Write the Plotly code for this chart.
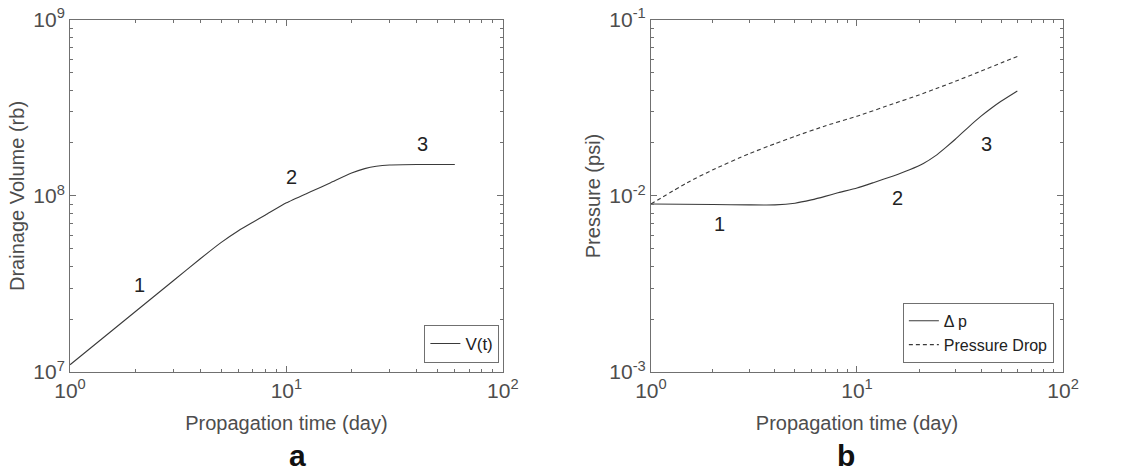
import numpy as np
import plotly.graph_objects as go

# Panel a: drainage volume vs propagation time
t_v = [1.0, 1.5, 2.0, 3.0, 4.0, 5.0, 6.0, 7.0, 8.0, 10.0, 13.0, 16.0, 20.0, 23.0, 26.0, 30.0, 40.0, 50.0, 60.0]
vol = [1.10e7, 1.65e7, 2.2e7, 3.3e7, 4.4e7, 5.45e7, 6.35e7, 7.1e7, 7.8e7, 9.15e7, 1.06e8, 1.19e8,
       1.35e8, 1.43e8, 1.475e8, 1.50e8, 1.51e8, 1.51e8, 1.51e8]

# Panel b: pressure vs propagation time
t_dp = [1.0, 2.0, 3.0, 4.0, 5.0, 6.0, 7.0, 8.0, 10.0, 12.0, 15.0, 18.0, 21.0, 24.0, 27.0, 30.0,
        35.0, 40.0, 45.0, 50.0, 60.0]
dp = [9.0e-3, 8.95e-3, 8.9e-3, 8.9e-3, 9.1e-3, 9.5e-3, 9.95e-3, 1.04e-2, 1.11e-2, 1.19e-2, 1.3e-2,
      1.41e-2, 1.53e-2, 1.69e-2, 1.89e-2, 2.1e-2, 2.48e-2, 2.84e-2, 3.16e-2, 3.45e-2, 3.95e-2]
t_drop = [1.0, 1.5, 2.0, 3.0, 4.0, 5.0, 7.0, 10.0, 15.0, 20.0, 25.0, 30.0, 40.0, 50.0, 60.0]
drop = [9.0e-3, 1.19e-2, 1.41e-2, 1.74e-2, 1.98e-2, 2.18e-2, 2.5e-2, 2.84e-2, 3.34e-2, 3.75e-2,
        4.13e-2, 4.48e-2, 5.12e-2, 5.7e-2, 6.2e-2]

# Stage labels (time, value, text)
stage_a = [(2.1, 3.13e7, "1"), (10.5, 1.29e8, "2"), (42.4, 1.98e8, "3")]
stage_b = [(2.14, 6.93e-3, "1"), (15.8, 9.7e-3, "2"), (42.6, 1.97e-2, "3")]

x_ticks = [1, 10, 100]
x_ticktext = ["10<sup>0</sup>", "10<sup>1</sup>", "10<sup>2</sup>"]
ya_ticks = [1e7, 1e8, 1e9]
ya_ticktext = ["10<sup>7</sup>", "10<sup>8</sup>", "10<sup>9</sup>"]
yb_ticks = [1e-3, 1e-2, 1e-1]
yb_ticktext = ["10<sup>-3</sup>", "10<sup>-2</sup>", "10<sup>-1</sup>"]


def minor_vals(lo, hi):
    return [m * 10.0 ** e for e in range(lo, hi) for m in range(2, 10)]


FONT = "Liberation Sans, Arial, sans-serif"
TXT = "#4d4d4d"
LINE = "#3a3a3a"
FRAME = "#707070"

fig = go.Figure()
fig.add_trace(go.Scatter(x=t_v, y=vol, mode="lines", name="V(t)",
                         line=dict(color=LINE, width=1.1, shape="spline", smoothing=0.5),
                         xaxis="x", yaxis="y", legend="legend"))
fig.add_trace(go.Scatter(x=t_dp, y=dp, mode="lines", name="\u0394 p",
                         line=dict(color=LINE, width=1.1, shape="spline", smoothing=0.5),
                         xaxis="x2", yaxis="y2", legend="legend2"))
fig.add_trace(go.Scatter(x=t_drop, y=drop, mode="lines", name="Pressure Drop",
                         line=dict(color=LINE, width=1.1, dash="4px,3px", shape="spline", smoothing=0.5),
                         xaxis="x2", yaxis="y2", legend="legend2"))


def log_axis(domain, rng, tickvals, ticktext, minors, title, anchor, standoff):
    return dict(
        type="log", domain=domain, range=rng, anchor=anchor, automargin=False,
        tickmode="array", tickvals=tickvals, ticktext=ticktext,
        ticks="inside", ticklen=6, tickcolor=FRAME, tickwidth=1,
        minor=dict(ticks="inside", ticklen=3, tickcolor=FRAME, tickmode="array",
                   tickvals=minors, showgrid=False),
        showline=True, linecolor=FRAME, linewidth=1, mirror="allticks",
        showgrid=False, zeroline=False,
        tickfont=dict(family=FONT, size=21, color=TXT),
        title=dict(text=title, font=dict(family=FONT, size=20, color=TXT), standoff=standoff),
    )


yd = [0.2168, 0.958]
fig.update_layout(
    width=1148, height=475,
    margin=dict(l=0, r=0, t=0, b=0),
    paper_bgcolor="white", plot_bgcolor="white",
    xaxis=log_axis([0.061, 0.438], [0, 2], x_ticks, x_ticktext, minor_vals(0, 2),
                   "Propagation time (day)", "y", 14),
    yaxis=log_axis(yd, [7, 9], ya_ticks, ya_ticktext, minor_vals(7, 9),
                   "Drainage Volume (rb)", "x", 3),
    xaxis2=log_axis([0.567, 0.926], [0, 2], x_ticks, x_ticktext, minor_vals(0, 2),
                    "Propagation time (day)", "y2", 14),
    yaxis2=log_axis(yd, [-3, -1], yb_ticks, yb_ticktext, minor_vals(-3, -1),
                    "Pressure (psi)", "x2", 3),
    legend=dict(x=0.435, y=0.236, xanchor="right", yanchor="bottom",
                bordercolor=FRAME, borderwidth=1, bgcolor="white",
                font=dict(family=FONT, size=17, color="#222")),
    legend2=dict(x=0.918, y=0.236, xanchor="right", yanchor="bottom",
                 bordercolor=FRAME, borderwidth=1, bgcolor="white", tracegroupgap=0,
                 font=dict(family=FONT, size=16, color="#222")),
    showlegend=True,
)

for x, y, s in stage_a:
    fig.add_annotation(x=np.log10(x), y=np.log10(y), xref="x", yref="y", text=s,
                       showarrow=False, font=dict(family=FONT, size=20, color="#222"))
for x, y, s in stage_b:
    fig.add_annotation(x=np.log10(x), y=np.log10(y), xref="x2", yref="y2", text=s,
                       showarrow=False, font=dict(family=FONT, size=20, color="#222"))

for x, s in [(0.25, "a"), (0.7465, "b")]:
    fig.add_annotation(x=x, y=0.042, xref="paper", yref="paper", yanchor="middle",
                       text="<b>%s</b>" % s, showarrow=False,
                       font=dict(family=FONT, size=30, color="#111"))

fig.write_html("out.html")
